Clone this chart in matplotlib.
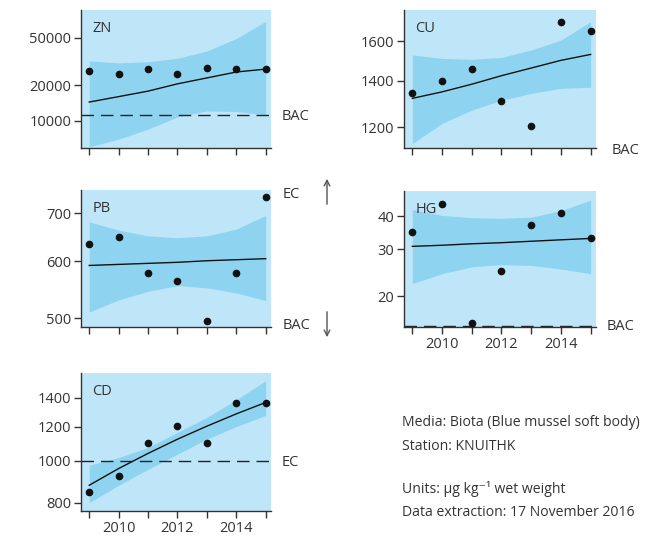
import numpy as np
import matplotlib.pyplot as plt

plt.rcParams['font.family'] = ['Open Sans', 'DejaVu Sans']

years = [2009, 2010, 2011, 2012, 2013, 2014, 2015]

# ZN
zn_obs = [26300, 24800, 27400, 24800, 27900, 27400, 27400]
zn_fit = [14400, 16000, 17800, 20500, 23000, 25800, 27300]
zn_hi = [32000, 30800, 31500, 33700, 38800, 49500, 69000]
zn_lo = [6050, 7000, 8500, 10800, 12100, 12000, 11200]
zn_bac = 11200

# CU
cu_obs = [1344, 1400, 1457, 1310, 1203, 1707, 1656]
cu_fit = [1321, 1350, 1385, 1425, 1462, 1500, 1530]
cu_hi = [1527, 1510, 1505, 1515, 1553, 1605, 1707]
cu_lo = [1136, 1215, 1270, 1313, 1343, 1366, 1371]

# PB
pb_obs = [634, 648, 577, 563, 495, 577, 737]
pb_fit = [592, 594, 596, 598, 601, 603, 605]
pb_hi = [681, 663, 651, 647, 651, 665, 695]
pb_lo = [510, 530, 545, 555, 551, 542, 529]

# HG
hg_obs = [34.8, 44.3, 15.9, 24.8, 37.0, 41.0, 33.0]
hg_fit = [30.8, 31.1, 31.5, 31.8, 32.2, 32.6, 33.0]
hg_hi = [42.4, 40.3, 39.5, 39.3, 39.7, 42.0, 46.0]
hg_lo = [22.3, 24.3, 25.8, 26.3, 26.1, 25.3, 24.3]
hg_bac = 15.5

# CD
cd_obs = [847, 923, 1100, 1204, 1100, 1363, 1363]
cd_fit = [878, 960, 1041, 1123, 1204, 1286, 1367]
cd_hi = [977, 1018, 1075, 1165, 1262, 1387, 1536]
cd_lo = [800, 878, 956, 1037, 1123, 1202, 1275]
cd_ec = 1000

light = '#bfe6f8'
band = '#8ed4f1'
dark = '#333333'
fs = 10.5

fig = plt.figure(figsize=(6.49, 5.4), dpi=100)
W, H = 649, 540


def make_ax(l, r, t, b):
    return fig.add_axes([l / W, 1 - b / H, (r - l) / W, (b - t) / H])


def panel(ax, name, obs, fit, hi, lo, ylim, yticks, xlabels):
    ax.set_facecolor(light)
    ax.set_yscale('log')
    ax.fill_between(years, lo, hi, color=band, lw=0)
    ax.plot(years, fit, color='#111111', lw=1.0)
    ax.plot(years, obs, 'o', color='#111111', ms=4.5, clip_on=False, zorder=5)
    ax.set_xlim(2008.72, 2015.18)
    ax.set_ylim(*ylim)
    ax.set_yticks(yticks)
    ax.set_yticklabels([str(v) for v in yticks])
    ax.yaxis.set_minor_locator(plt.NullLocator())
    ax.set_xticks(years)
    if xlabels:
        ax.set_xticklabels(['', '2010', '', '2012', '', '2014', ''])
    else:
        ax.set_xticklabels([])
    for s in ['top', 'right']:
        ax.spines[s].set_visible(False)
    for s in ['left', 'bottom']:
        ax.spines[s].set_color(dark)
        ax.spines[s].set_linewidth(1.0)
    ax.tick_params(direction='out', length=5, width=1, color=dark,
                   labelcolor=dark, labelsize=fs, pad=2)
    ax.text(0.06, 0.92, name, transform=ax.transAxes, fontsize=fs,
            color=dark, va='top')


def thresh(ax, value, label):
    ax.axhline(value, color='#222222', lw=1, dashes=(9, 5))
    ax.annotate(label, xy=(1, value), xycoords=('axes fraction', 'data'),
                xytext=(8, -1), textcoords='offset points', va='center',
                fontsize=fs, color=dark)


ax = make_ax(81, 271, 10, 148)
panel(ax, 'ZN', zn_obs, zn_fit, zn_hi, zn_lo, (5900, 86000),
      [10000, 20000, 50000], False)
thresh(ax, zn_bac, 'BAC')

ax = make_ax(404, 596, 10, 148)
panel(ax, 'CU', cu_obs, cu_fit, cu_hi, cu_lo, (1119, 1775),
      [1200, 1400, 1600], False)
ax.text(1.08, -0.02, 'BAC', transform=ax.transAxes, fontsize=fs,
        color=dark, va='center')

ax = make_ax(81, 271, 190, 327)
panel(ax, 'PB', pb_obs, pb_fit, pb_hi, pb_lo, (486, 754),
      [500, 600, 700], False)
ax.text(1.06, 0.97, 'EC', transform=ax.transAxes, fontsize=fs,
        color=dark, va='center')
ax.text(1.06, 0.01, 'BAC', transform=ax.transAxes, fontsize=fs,
        color=dark, va='center')
ax.annotate('', xy=(327 / W, 1 - 176 / H), xytext=(327 / W, 1 - 207 / H),
            xycoords='figure fraction',
            arrowprops=dict(arrowstyle='->', color='#555555', lw=1))
ax.annotate('', xy=(327 / W, 1 - 340 / H), xytext=(327 / W, 1 - 309 / H),
            xycoords='figure fraction',
            arrowprops=dict(arrowstyle='->', color='#555555', lw=1))

ax = make_ax(404, 596, 191, 327)
panel(ax, 'HG', hg_obs, hg_fit, hg_hi, hg_lo, (15.3, 49.8),
      [20, 30, 40], True)
thresh(ax, hg_bac, 'BAC')

ax = make_ax(81, 271, 373, 511)
panel(ax, 'CD', cd_obs, cd_fit, cd_hi, cd_lo, (765, 1600),
      [800, 1000, 1200, 1400], True)
thresh(ax, cd_ec, 'EC')

info = [('Media: Biota (Blue mussel soft body)', 423),
        ('Station: KNUITHK', 447),
        ('Units: µg kg⁻¹ wet weight', 489),
        ('Data extraction: 17 November 2016', 512)]
for txt, y in info:
    fig.text(402 / W, 1 - y / H, txt, fontsize=10.1, color=dark, va='center')

fig.savefig('out.png', dpi=100)
